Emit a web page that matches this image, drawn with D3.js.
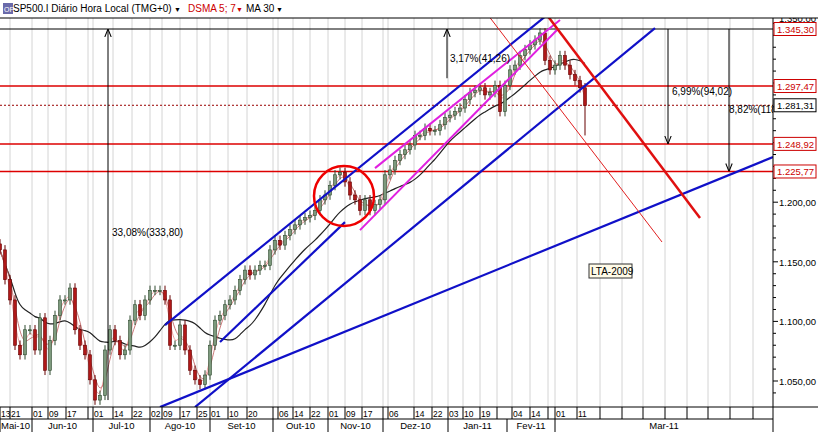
<!DOCTYPE html>
<html>
<head>
<meta charset="utf-8">
<script src="https://cdn.jsdelivr.net/npm/d3@7"></script>
<style>
body { margin: 0; background: #fff; }
text { font-family: Arial, "Liberation Sans", sans-serif; }
</style>
</head>
<body>
<svg id="viz"></svg>
<script>
// closes, one per slot (slot = ~5 px in the original)
let closes = [1160,1135,1118,1080,1072,1093,1093,1076,1103,1059,1084,1105,1118,1118,1128,1093,1080,1072,1051,1034,
  1038,1076,1093,1084,1072,1076,1101,1114,1105,1118,1126,1126,1126,1118,1080,1080,1097,1076,1059,1051,
  1047,1055,1080,1101,1105,1114,1118,1126,1135,1143,1139,1143,1147,1147,1160,1168,1164,1172,1177,1181,
  1185,1187,1189,1193,1202,1206,1214,1223,1225,1217,1206,1202,1193,1202,1193,1198,1202,1223,1227,1235,
  1240,1244,1248,1256,1256,1262,1260,1260,1265,1271,1273,1276,1279,1286,1292,1294,1296,1290,1292,1298,
  1276,1298,1311,1315,1323,1328,1332,1336,1342,1319,1311,1315,1323,1315,1307,1302,1296,1281];
let lastLow = 1256;

let dayLabels = ["13","21","01","09","17","","01","14","22","02","09","17","25","01","10","20","","06","14","22","01","09","17","","06","14","22","03","10","19","","04","14","","01","11","","","","","","","",""];
let dayStarts = [0,2,6.4,9.6,13.2,17.6,18.6,22.6,26.4,30,32.4,36,39.4,42,45.6,49.4,54.6,55.6,58.6,62,65.6,69,72.4,76.6,77.6,82.8,86.4,89.6,92.6,96,99.4,102.4,106,109.6,111,115.4,120,124.4,128.6,133,137.4,141.6,146,150.6];
let monthLabels = ["Mai-10","Jun-10","Jul-10","Ago-10","Set-10","Out-10","Nov-10","Dez-10","Jan-11","Fev-11","Mar-11"];
let monthStarts = [0,6.4,18.6,30,42,54.6,65.6,76.6,89.6,101.4,111];
let endSlot = 154.6;

let levels = [1297.47, 1248.92, 1225.77];
let lastPrice = 1281.31;
let topPrice = 1345.30;

let blueLines = [[[33,1096.9],[109.4,1357]], [[39,1028.1],[131,1346.1]], [[44,1082.7],[69,1183.3]], [[32,1028.1],[154.6,1237.9]]];
let magentaLines = [[[75,1228.6],[112,1352.8]], [[72,1176.6],[111.4,1344.4]]];
let redThick = [[109.4,1357],[140,1186.7]];
let redThin = [[97.6,1357],[132.4,1166.6]];
let circle = [68.8, 1205.2];

let arrows = [
  {x: 21.6, from: 1034, to: topPrice, label: "33,08%(333,80)", lx: 22.4, ly: 1172},
  {x: 89.4, from: 1304, to: topPrice, label: "3,17%(41,26)", lx: 90, ly: 1318},
  {x: 133.6, from: topPrice, to: 1248.92, label: "6,99%(94,02)", lx: 134.4, ly: 1290},
  {x: 145.8, from: topPrice, to: 1225.77, label: "8,82%(118,", lx: 145.8, ly: 1275}
];

let W = 818, H = 432, plotW = 773, plotTop = 18, plotBottom = 407;

let svg = d3.select("#viz").attr("width", W).attr("height", H);
let x = d3.scaleLinear().domain([0, endSlot]).range([0, plotW]);
let y = d3.scaleLinear().domain([1050, topPrice]).range([381, 29]);
let fmt = d3.formatLocale({decimal: ",", thousands: ".", grouping: [3], currency: ["", ""]}).format(",.2f");

svg.append("defs").append("clipPath").attr("id", "clip")
  .append("rect").attr("x", 0).attr("y", plotTop).attr("width", plotW).attr("height", plotBottom - plotTop);
let mk = svg.select("defs").append("marker").attr("id", "arr").attr("viewBox", "0 0 10 10")
  .attr("refX", 10).attr("refY", 5).attr("markerWidth", 8).attr("markerHeight", 8).attr("orient", "auto-start-reverse");
mk.append("path").attr("d", "M0,1 L10,5 L0,9").attr("fill", "none").attr("stroke", "#000").attr("stroke-width", 1.3);

let g = svg.append("g").attr("clip-path", "url(#clip)");

// grid
g.selectAll("line.grid").data(dayStarts.slice(1)).enter().append("line")
  .attr("x1", d => x(d)).attr("x2", d => x(d)).attr("y1", plotTop).attr("y2", plotBottom)
  .attr("stroke", "#d4d4d4");

// horizontal levels
g.append("line").attr("x1", 0).attr("x2", plotW).attr("y1", y(topPrice)).attr("y2", y(topPrice)).attr("stroke", "#000");
g.selectAll("line.lvl").data(levels).enter().append("line")
  .attr("x1", 0).attr("x2", plotW).attr("y1", d => y(d)).attr("y2", d => y(d)).attr("stroke", "#d00").attr("stroke-width", 1.5);
g.append("line").attr("x1", 0).attr("x2", plotW).attr("y1", y(lastPrice)).attr("y2", y(lastPrice))
  .attr("stroke", "#900").attr("stroke-dasharray", "2,2");

// moving averages
function sma(n) {
  return closes.map((c, i) => d3.mean(closes.slice(Math.max(0, i - n + 1), i + 1)));
}
let line = d3.line().x((d, i) => x(i)).y(d => y(d)).curve(d3.curveBasis);
g.append("path").attr("d", line(sma(14))).attr("fill", "none").attr("stroke", "#222").attr("stroke-width", 1.2);
g.append("path").attr("d", line(sma(2))).attr("fill", "none").attr("stroke", "#e88").attr("stroke-width", 0.8);
g.append("path").attr("d", line(sma(3))).attr("fill", "none").attr("stroke", "#b55").attr("stroke-width", 0.8);

// candles
let candles = closes.map((c, i) => {
  let o = i ? closes[i - 1] : c + 5;
  let hi = Math.max(o, c) + 4, lo = Math.min(o, c) - 4;
  if (i === closes.length - 1) lo = lastLow;
  return {i, o, c, hi, lo};
});
let cg = g.selectAll("g.c").data(candles).enter().append("g");
cg.append("line").attr("x1", d => x(d.i)).attr("x2", d => x(d.i)).attr("y1", d => y(d.hi)).attr("y2", d => y(d.lo))
  .attr("stroke", d => d.c >= d.o ? "#2f4a2f" : "#600");
cg.append("rect").attr("x", d => x(d.i) - 1.5).attr("width", 3)
  .attr("y", d => y(Math.max(d.o, d.c))).attr("height", d => Math.max(1, Math.abs(y(d.o) - y(d.c))))
  .attr("fill", d => d.c >= d.o ? "#7d9a7d" : "#b01818").attr("stroke", d => d.c >= d.o ? "#2f4a2f" : "#600").attr("stroke-width", 0.6);

// drawn lines
function seg(sel, data, color, w) {
  sel.selectAll(null).data(data).enter().append("line")
    .attr("x1", d => x(d[0][0])).attr("y1", d => y(d[0][1]))
    .attr("x2", d => x(d[1][0])).attr("y2", d => y(d[1][1]))
    .attr("stroke", color).attr("stroke-width", w);
}
seg(g, blueLines, "#1010c8", 2.2);
seg(g, magentaLines, "#e020e0", 2);
seg(g, [redThin], "#e02020", 1);
seg(g, [redThick], "#e01010", 2.5);
g.append("circle").attr("cx", x(circle[0])).attr("cy", y(circle[1])).attr("r", 30)
  .attr("fill", "none").attr("stroke", "#e00").attr("stroke-width", 2.5);

// arrows
arrows.forEach(a => {
  g.append("line").attr("x1", x(a.x)).attr("x2", x(a.x)).attr("y1", y(a.from)).attr("y2", y(a.to))
    .attr("stroke", "#000").attr("marker-end", "url(#arr)");
  g.append("text").attr("x", x(a.lx)).attr("y", y(a.ly)).attr("font-size", 10).text(a.label);
});
g.append("rect").attr("x", 589).attr("y", 264).attr("width", 43).attr("height", 14).attr("fill", "#fffbe8").attr("stroke", "#333");
g.append("text").attr("x", 591).attr("y", 275).attr("font-size", 10).text("LTA-2009");

// right axis
let ax = svg.append("g");
ax.append("line").attr("x1", plotW).attr("x2", plotW).attr("y1", plotTop).attr("y2", plotBottom).attr("stroke", "#000");
ax.selectAll("line.mt").data(d3.range(1040, 1360, 10)).enter().append("line")
  .attr("x1", plotW).attr("x2", d => plotW + (d % 50 === 0 ? 5 : 3)).attr("y1", d => y(d)).attr("y2", d => y(d))
  .attr("stroke", "#000");
ax.selectAll("text.t").data([1050, 1100, 1150, 1200]).enter().append("text")
  .attr("x", plotW + 6).attr("y", d => y(d) + 4).attr("font-size", 9.5).text(d => fmt(d));
// 1.350,00 label, mostly hidden by the header
ax.append("text").attr("x", plotW + 6).attr("y", y(1350) - 1).attr("font-size", 9.5).text(fmt(1350));
let boxes = levels.concat([topPrice]).map(v => ({v, c: "#c00"})).concat([{v: lastPrice, c: "#000"}]);
ax.selectAll("g.b").data(boxes).enter().append("g").each(function(d) {
  let s = d3.select(this);
  s.append("rect").attr("x", plotW + 1).attr("y", y(d.v) - 6.5).attr("width", 42).attr("height", 13)
    .attr("fill", "#fff").attr("stroke", d.c);
  s.append("text").attr("x", plotW + 4).attr("y", y(d.v) + 4).attr("font-size", 9.5).attr("fill", d.c).text(fmt(d.v));
});

// header (drawn over axis label)
svg.append("rect").attr("x", 0).attr("y", 0).attr("width", W).attr("height", plotTop).attr("fill", "#fff");
svg.append("rect").attr("x", 3).attr("y", 3).attr("width", 10).attr("height", 11).attr("fill", "#6a6aaa");
svg.append("text").attr("x", 4).attr("y", 12).attr("font-size", 7).attr("fill", "#fff").text("OP");
svg.append("text").attr("x", 13).attr("y", 12).attr("font-size", 10).text("SP500.I Diário Hora Local (TMG+0)");
svg.append("text").attr("x", 174).attr("y", 12).attr("font-size", 7).text("▼");
svg.append("text").attr("x", 188).attr("y", 12).attr("font-size", 10).attr("fill", "#c00").text("DSMA 5; 7");
svg.append("text").attr("x", 236).attr("y", 12).attr("font-size", 7).attr("fill", "#c00").text("▼");
svg.append("text").attr("x", 246).attr("y", 12).attr("font-size", 10).text("MA 30");
svg.append("text").attr("x", 276).attr("y", 12).attr("font-size", 7).text("▼");
svg.append("line").attr("x1", 0).attr("x2", W).attr("y1", plotTop).attr("y2", plotTop).attr("stroke", "#000");

// bottom axis
let bx = svg.append("g");
bx.append("rect").attr("x", 0).attr("y", plotBottom).attr("width", W).attr("height", H - plotBottom).attr("fill", "#fff");
bx.append("line").attr("x1", 0).attr("x2", W).attr("y1", plotBottom).attr("y2", plotBottom).attr("stroke", "#000");
bx.append("line").attr("x1", 0).attr("x2", plotW).attr("y1", 419).attr("y2", 419).attr("stroke", "#000");
bx.append("line").attr("x1", plotW).attr("x2", plotW).attr("y1", plotBottom).attr("y2", H).attr("stroke", "#000");
dayStarts.forEach((s, i) => {
  bx.append("line").attr("x1", x(s)).attr("x2", x(s)).attr("y1", plotBottom).attr("y2", 419).attr("stroke", "#000");
  bx.append("text").attr("x", x(s) + 1).attr("y", 417).attr("font-size", 8.5).text(dayLabels[i]);
});
monthStarts.forEach((s, i) => {
  let e = i < monthStarts.length - 1 ? monthStarts[i + 1] : endSlot;
  bx.append("line").attr("x1", x(s)).attr("x2", x(s)).attr("y1", 419).attr("y2", H).attr("stroke", "#000");
  bx.append("text").attr("x", i ? (x(s) + x(e)) / 2 : 1).attr("y", 429).attr("font-size", 9.5)
    .attr("text-anchor", i ? "middle" : "start").text(monthLabels[i]);
});
</script>
</body>
</html>
